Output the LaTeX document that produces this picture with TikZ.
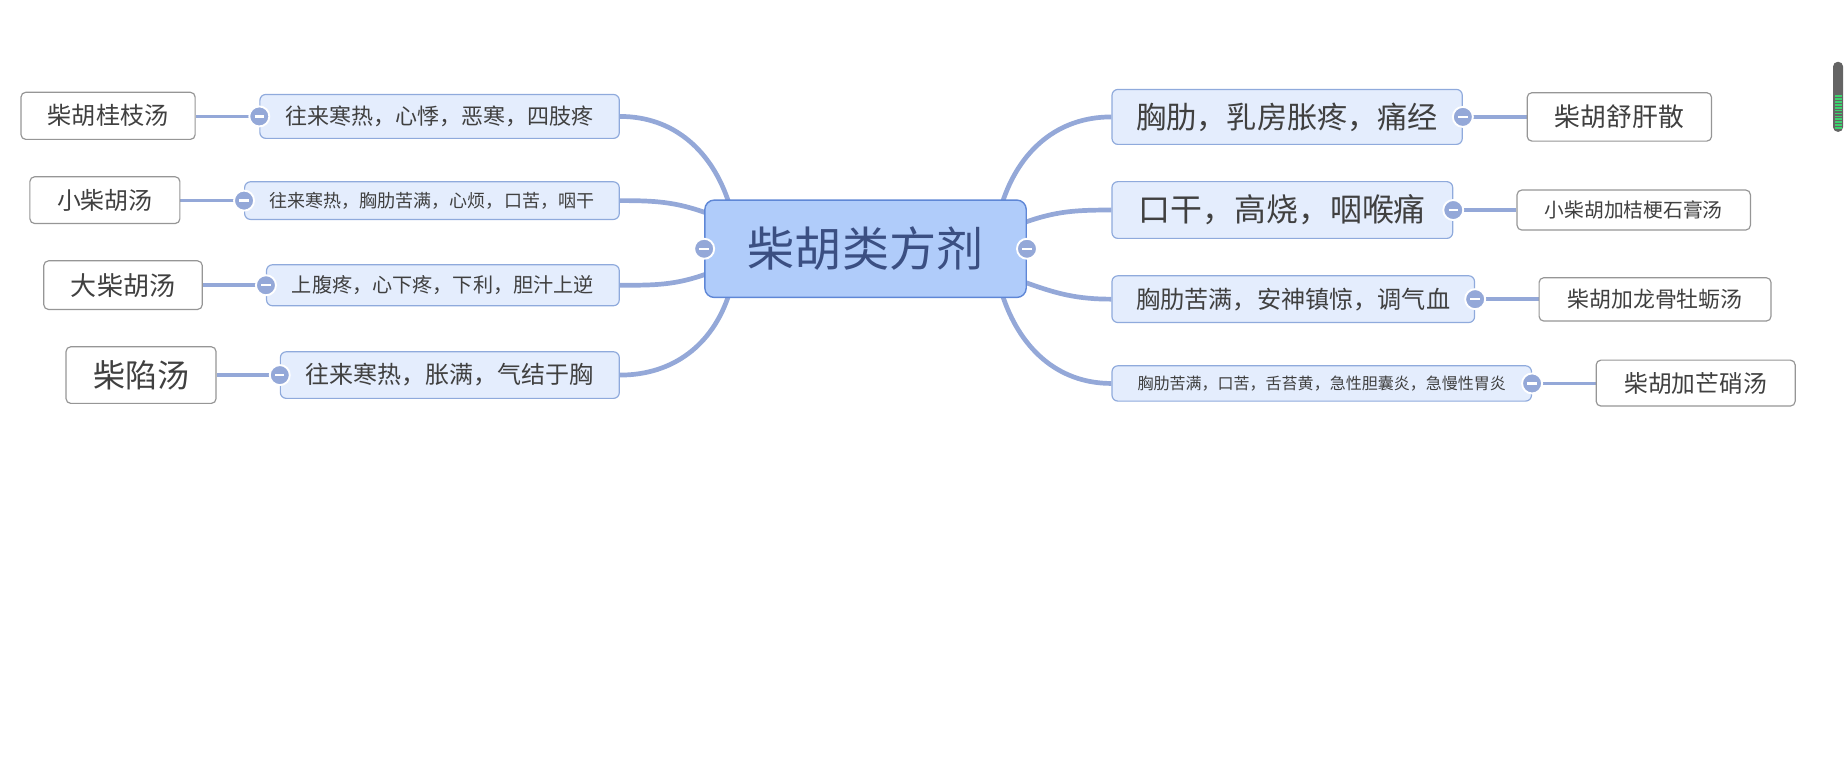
\documentclass[tikz,border=0pt]{standalone}
\usepackage{fontspec}
\setmainfont{Noto Sans CJK SC}
\usetikzlibrary{backgrounds}
\definecolor{branchc}{RGB}{148,168,216}
\definecolor{topicfill}{RGB}{228,237,253}
\definecolor{topicline}{RGB}{143,170,220}
\definecolor{rootfill}{RGB}{176,204,250}
\definecolor{rootline}{RGB}{95,135,214}
\definecolor{roottext}{RGB}{59,79,130}
\definecolor{boxline}{RGB}{150,150,150}
\definecolor{txt}{RGB}{64,64,64}
\definecolor{barc}{RGB}{100,100,100}
\definecolor{barg}{RGB}{60,210,110}
\newcommand\foldbar{\textcolor{white}{\rule[-1pt]{8pt}{2pt}}}
\begin{document}
\begin{tikzpicture}[x=1pt,y=1pt,
  fs/.style={font=\fontsize{#1}{#1}\selectfont},
  root/.style={draw=rootline,fill=rootfill,line width=1.2pt,rounded corners=8pt,inner sep=0pt,text=roottext},
  topic/.style={draw=topicline,fill=topicfill,line width=1pt,rounded corners=5pt,inner sep=0pt,text=txt},
  formula/.style={draw=boxline,fill=white,line width=1pt,rounded corners=4pt,inner sep=0pt,text=txt},
  branch/.style={draw=branchc,line width=4pt},
  link/.style={draw=branchc,line width=3.2pt},
  fold/.style={circle,fill=branchc,draw=white,line width=1.6pt,minimum size=17pt,inner sep=0pt}]
\useasboundingbox (0,0) rectangle (1568,-661);
% centre
\node[root,fs=40,minimum width=273,minimum height=82.7] (root) at (735.2,-211.3) {柴胡类方剂};
% left side
\node[topic,fs=18.7,minimum width=305.3,minimum height=37.3] (L1) at (373.4,-98.9) {往来寒热，心悸，恶寒，四肢疼};
\node[topic,fs=15.3,minimum width=318.2,minimum height=32] (L2) at (366.9,-170.4) {往来寒热，胸肋苦满，心烦，口苦，咽干};
\node[topic,fs=17.1,minimum width=299.6,minimum height=34.8] (L3) at (376.2,-242.3) {上腹疼，心下疼，下利，胆汁上逆};
\node[topic,fs=20.4,minimum width=287.9,minimum height=39.6] (L4) at (382.1,-318.6) {往来寒热，胀满，气结于胸};
\node[formula,fs=20.5,minimum width=147.9,minimum height=40] (S1) at (91.8,-98.4) {柴胡桂枝汤};
\node[formula,fs=20.3,minimum width=127.4,minimum height=39.7] (S2) at (89.1,-170) {小柴胡汤};
\node[formula,fs=22.1,minimum width=134.6,minimum height=41.3] (S3) at (104.5,-242.2) {大柴胡汤};
\node[formula,fs=27.2,minimum width=127.4,minimum height=48.1] (S4) at (119.8,-318.6) {柴陷汤};
% right side
\node[topic,fs=25.6,minimum width=297.5,minimum height=46.7] (R1) at (1093.3,-99.3) {胸肋，乳房胀疼，痛经};
\node[topic,fs=27.1,minimum width=289.4,minimum height=48.2] (R2) at (1089.2,-178.4) {口干，高烧，咽喉痛};
\node[topic,fs=20.5,minimum width=308,minimum height=39.7] (R3) at (1098.5,-254.1) {胸肋苦满，安神镇惊，调气血};
\node[topic,fs=13.6,minimum width=356.3,minimum height=30] (R4) at (1122.7,-325.7) {胸肋苦满，口苦，舌苔黄，急性胆囊炎，急慢性胃炎};
\node[formula,fs=21.9,minimum width=156.6,minimum height=41.1] (T1) at (1375.5,-99.3) {柴胡舒肝散};
\node[formula,fs=16.8,minimum width=198.2,minimum height=34] (T2) at (1387.7,-178.4) {小柴胡加桔梗石膏汤};
\node[formula,fs=18.6,minimum width=197,minimum height=36.8] (T3) at (1405.8,-254.3) {柴胡加龙骨牡蛎汤};
\node[formula,fs=20.2,minimum width=169,minimum height=39] (T4) at (1440.3,-325.4) {柴胡加芒硝汤};
\begin{pgfonlayer}{background}
\draw[branch] ([xshift=21,yshift=-3]root.north west) to[out=108,in=0] (L1.east);
\draw[branch] ([xshift=3,yshift=30]root.west) to[out=160,in=0] (L2.east);
\draw[branch] ([xshift=3,yshift=-21]root.west) to[out=200,in=0] (L3.east);
\draw[branch] ([xshift=21,yshift=3]root.south west) to[out=252,in=0] (L4.east);
\draw[branch] ([xshift=-21,yshift=-3]root.north east) to[out=72,in=180] (R1.west);
\draw[branch] ([xshift=-3,yshift=22]root.east) to[out=20,in=180] (R2.west);
\draw[branch] ([xshift=-3,yshift=-28]root.east) to[out=-20,in=180] (R3.west);
\draw[branch] ([xshift=-21,yshift=3]root.south east) to[out=-72,in=180] (R4.west);
\foreach \t/\s in {L1/S1,L2/S2,L3/S3,L4/S4}
  \draw[link] (\t.west) -- (\t.west -| \s.east);
\foreach \t/\s in {R1/T1,R2/T2,R3/T3,R4/T4}
  \draw[link] (\t.east) -- (\t.east -| \s.west);
\end{pgfonlayer}
% fold buttons
\node[fold] (fa) at (root.west) {\foldbar};
\node[fold] (fb) at (root.east) {\foldbar};
\foreach \t in {L1,L2,L3,L4}
  \node[fold] (f\t) at (\t.west) {\foldbar};
\foreach \t in {R1,R2,R3,R4}
  \node[fold] (f\t) at (\t.east) {\foldbar};
% scroll bar
\fill[barc,rounded corners=4] (1557,-52.5) rectangle (1565.5,-112);
\foreach \i in {0,...,11}
  \fill[barg] (1558.3,-81-\i*2.45) rectangle (1564.2,-82.4-\i*2.45);
\end{tikzpicture}
\end{document}
